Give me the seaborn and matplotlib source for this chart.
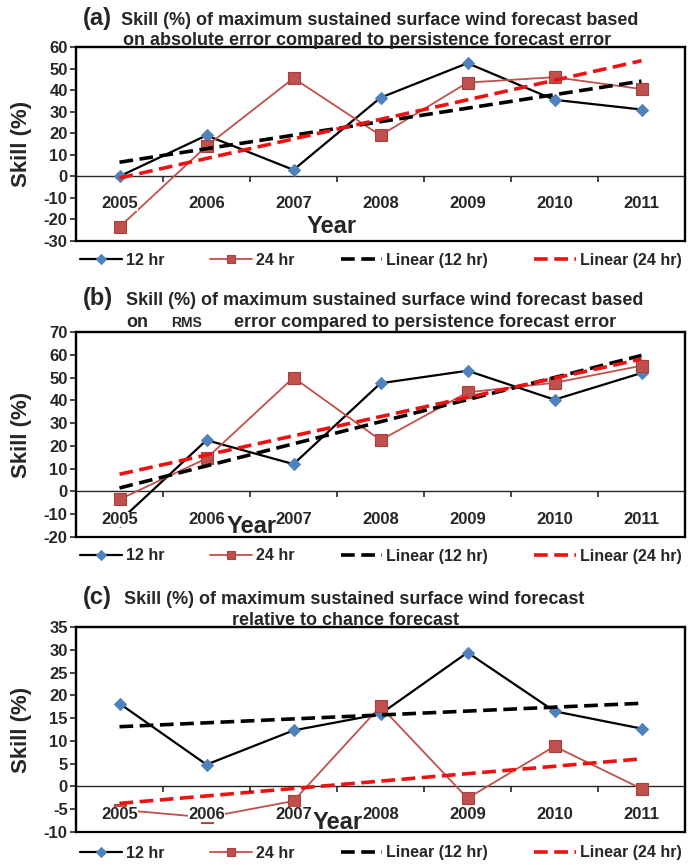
import matplotlib
matplotlib.use("Agg")
import numpy as np
import pandas as pd
import seaborn as sns
import matplotlib.pyplot as plt
from matplotlib.patches import Rectangle

# ---- data -------------------------------------------------------------
years = ["2005", "2006", "2007", "2008", "2009", "2010", "2011"]

skill_abs_12 = [0, 19, 3, 36.5, 52.5, 35.5, 31]
skill_abs_24 = [-23.5, 14, 45.5, 19, 43.5, 46, 40.5]

skill_rms_12 = [-13, 22.5, 12, 47.5, 53, 40.3, 52]
skill_rms_24 = [-3.5, 14.5, 50, 22.5, 43.5, 47.7, 55.2]

skill_chance_12 = [18.2, 4.8, 12.3, 15.9, 29.4, 16.5, 12.7]
skill_chance_24 = [-5.1, -6.8, -3.2, 17.6, -2.6, 8.8, -0.5]

series_labels = ["12 hr", "24 hr", "Linear (12 hr)", "Linear (24 hr)"]

# ---- style ------------------------------------------------------------
sns.set_style("white")
plt.rcParams["font.family"] = ["Liberation Sans", "DejaVu Sans"]
plt.rcParams["font.weight"] = "bold"
plt.rcParams["axes.labelweight"] = "bold"
plt.rcParams["axes.unicode_minus"] = False

W, H = 689, 865
BLUE = "#4f81bd"
BRICK = "#c0504d"
BRICK_EDGE = "#a5403d"
RED = "#ee1111"
TITLE_SIZE = 13

fig = plt.figure(figsize=(W / 100, H / 100), dpi=100)


def fx(x):
    return x / W


def fy(y):
    return 1 - y / H


panels = [
    dict(tag="(a)", v12=skill_abs_12, v24=skill_abs_24, ylim=(-30, 60), step=10,
         top=47, bottom=241, base1=25, base2=45,
         line1=("Skill (%) of maximum sustained surface wind forecast based", 121),
         line2=[("on absolute error compared to persistence forecast error", 123, TITLE_SIZE)],
         year=(332, 233), legend_y=260, xpad=14),
    dict(tag="(b)", v12=skill_rms_12, v24=skill_rms_24, ylim=(-20, 70), step=10,
         top=332, bottom=537, base1=305, base2=327,
         line1=("Skill (%) of maximum sustained surface wind forecast based", 126),
         line2=[("on", 126, TITLE_SIZE), ("RMS", 171, 10),
                ("error compared to persistence forecast error", 234, TITLE_SIZE)],
         year=(252, 533), legend_y=556, xpad=15),
    dict(tag="(c)", v12=skill_chance_12, v24=skill_chance_24, ylim=(-10, 35), step=5,
         top=627, bottom=832, base1=604, base2=625,
         line1=("Skill (%) of maximum sustained surface wind forecast", 124),
         line2=[("relative to chance forecast", 232, TITLE_SIZE)],
         year=(338, 829), legend_y=853, xpad=15),
]

LEFT, RIGHT = 76, 685
pos = np.arange(len(years))

for p in panels:
    ax = fig.add_axes([fx(LEFT), fy(p["bottom"]), (RIGHT - LEFT) / W,
                       (p["bottom"] - p["top"]) / H])

    sns.lineplot(x=pos, y=p["v12"], ax=ax, color="black", lw=1.6,
                 marker="D", markersize=6.5, markerfacecolor=BLUE,
                 markeredgecolor=BLUE, label=series_labels[0], zorder=3)
    sns.lineplot(x=pos, y=p["v24"], ax=ax, color=BRICK, lw=1.3,
                 marker="s", markersize=8, markerfacecolor=BRICK,
                 markeredgecolor=BRICK_EDGE, markeredgewidth=0.8,
                 label=series_labels[1], zorder=3)
    sns.regplot(x=pos, y=p["v12"], ax=ax, scatter=False, ci=None, truncate=True,
                label=series_labels[2],
                line_kws=dict(color="black", lw=2.6, dashes=(3.8, 1.8), zorder=4))
    sns.regplot(x=pos, y=p["v24"], ax=ax, scatter=False, ci=None, truncate=True,
                label=series_labels[3],
                line_kws=dict(color=RED, lw=2.6, dashes=(3.8, 1.8), zorder=4))

    lo, hi = p["ylim"]
    ax.set_xlim(-0.5, len(years) - 0.5)
    ax.set_ylim(lo, hi)
    ax.set_yticks(np.arange(lo, hi + p["step"] / 2, p["step"]))

    # category axis crosses at zero, tick marks between categories
    ax.spines["bottom"].set_position(("data", 0))
    ax.spines["bottom"].set_linewidth(1.0)
    for s in ("left", "right", "top"):
        ax.spines[s].set_linewidth(1.6)
    ax.set_xticks(pos)
    ax.set_xticklabels(years)
    ax.set_xticks(np.arange(-0.5, len(years), 1.0), minor=True)
    ax.tick_params(axis="x", which="major", length=0, pad=p["xpad"], labelsize=12)
    ax.tick_params(axis="x", which="minor", length=4, width=1.2, direction="out",
                   bottom=True)
    ax.tick_params(axis="y", length=4, width=1.2, direction="out", left=True,
                   labelsize=12, pad=2)
    for t in ax.get_yticklabels():
        t.set_fontweight("bold")
    # category labels sit on an opaque white box above the series
    for t in ax.get_xticklabels():
        t.set_fontweight("bold")
        t.set_bbox(dict(facecolor="white", edgecolor="none", pad=0))
    ax.xaxis.set_zorder(5)

    ax.add_patch(Rectangle((0, 0), 1, 1, transform=ax.transAxes, fill=False,
                           ec="black", lw=1.6, clip_on=False, zorder=6))

    ax.set_ylabel("Skill (%)", fontsize=16, fontweight="bold")
    ax.yaxis.set_label_coords(-0.072, 0.5)
    ax.set_xlabel("Year", fontsize=17, fontweight="bold")
    yx, yb = p["year"]
    ax.xaxis.set_label_coords((yx - LEFT) / (RIGHT - LEFT),
                              (p["bottom"] - yb) / (p["bottom"] - p["top"]))
    ax.xaxis.label.set_va("baseline")

    # panel titles
    fig.text(fx(83), fy(p["base1"]), p["tag"], fontsize=17, fontweight="bold",
             va="baseline", ha="left")
    fig.text(fx(p["line1"][1]), fy(p["base1"]), p["line1"][0], fontsize=TITLE_SIZE,
             fontweight="bold", va="baseline", ha="left")
    for txt, x, size in p["line2"]:
        fig.text(fx(x), fy(p["base2"]), txt, fontsize=size, fontweight="bold",
                 va="baseline", ha="left")

    handles, labels = ax.get_legend_handles_labels()
    order = [labels.index(l) for l in series_labels]
    ax.legend([handles[i] for i in order], [labels[i] for i in order],
              loc="center left", bbox_to_anchor=(fx(80), fy(p["legend_y"])),
              bbox_transform=fig.transFigure, ncol=4, frameon=False,
              handlelength=2.6, handletextpad=0.25, markerscale=0.75,
              columnspacing=2.9, borderaxespad=0, borderpad=0,
              prop=dict(weight="bold", size=11.5))

fig.savefig("out.png", dpi=100)
